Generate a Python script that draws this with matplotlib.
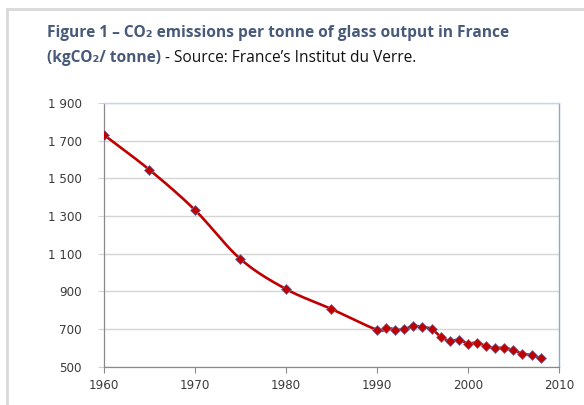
import numpy as np
import matplotlib
matplotlib.use("Agg")
import matplotlib.pyplot as plt
from matplotlib.lines import Line2D
from matplotlib.ticker import FuncFormatter

years = [1960, 1965, 1970, 1975, 1980, 1985, 1990, 1991, 1992, 1993, 1994,
         1995, 1996, 1997, 1998, 1999, 2000, 2001, 2002, 2003, 2004, 2005,
         2006, 2007, 2008]
emissions = [1730, 1545, 1332, 1072, 913, 807, 697, 709, 698, 700, 717,
             712, 702, 661, 638, 644, 624, 629, 610, 600, 602, 588,
             570, 563, 546]

title_line1 = "Figure 1 \u2013 CO\u2082 emissions per tonne of glass output in France"
title_line2a = "(kgCO\u2082/ tonne)"
title_line2b = " - Source: France\u2019s Institut du Verre."

fams = ["Open Sans", "DejaVu Sans"]


def smooth(x, y, n=20):
    # Catmull-Rom path through the points, like a spreadsheet's smoothed line
    x = np.asarray(x, float)
    y = np.asarray(y, float)
    px = np.concatenate([[2 * x[0] - x[1]], x, [2 * x[-1] - x[-2]]])
    py = np.concatenate([[2 * y[0] - y[1]], y, [2 * y[-1] - y[-2]]])
    xs, ys = [], []
    t = np.linspace(0, 1, n, endpoint=False)
    for i in range(1, len(px) - 2):
        for p, out in ((px, xs), (py, ys)):
            p0, p1, p2, p3 = p[i - 1], p[i], p[i + 1], p[i + 2]
            out.extend(0.5 * ((2 * p1) + (-p0 + p2) * t
                              + (2 * p0 - 5 * p1 + 4 * p2 - p3) * t ** 2
                              + (-p0 + 3 * p1 - 3 * p2 + p3) * t ** 3))
    xs.append(x[-1])
    ys.append(y[-1])
    return np.array(xs), np.array(ys)


fig = plt.figure(figsize=(5.84, 4.05), dpi=100)
ax = fig.add_axes([0.178, 0.094, 0.779, 0.652])

sx, sy = smooth(years, emissions)
ax.plot(sx, sy, color="#c00000", linewidth=1.9, zorder=3)
ax.plot(years, emissions, linestyle="none", marker="D", markersize=5.6,
        markerfacecolor="#c00000", markeredgecolor="#6f6f9f",
        markeredgewidth=0.5, zorder=4)

ax.set_xlim(1960, 2010)
ax.set_ylim(500, 1900)
ax.set_xticks(range(1960, 2011, 10))
ax.set_yticks(range(500, 1901, 200))
ax.yaxis.set_major_formatter(FuncFormatter(lambda v, p: f"{int(v):,}".replace(",", " ")))
ax.grid(axis="y", color="#d4d4d4", linewidth=1.0)
ax.set_axisbelow(True)

for s in ("left", "bottom"):
    ax.spines[s].set_color("#8a8a8a")
    ax.spines[s].set_linewidth(0.9)
ax.spines["top"].set_color("#c6d3ea")
ax.spines["right"].set_color("#8ea6d4")
ax.spines["top"].set_linewidth(1.0)
ax.spines["right"].set_linewidth(1.0)
ax.tick_params(axis="both", direction="out", length=4, color="#8a8a8a",
               labelsize=8.6, labelcolor="#3a3a3a")
ax.tick_params(axis="y", length=4, color="#d4d4d4", pad=12)
ax.tick_params(axis="x", pad=5)
for lab in ax.get_xticklabels() + ax.get_yticklabels():
    lab.set_fontfamily("DejaVu Sans")

# page frame
fig.add_artist(Line2D([0.012, 0.012], [0.0, 0.978], color="#d9d9d9", linewidth=2))
fig.add_artist(Line2D([0.012, 1.0], [0.978, 0.978], color="#d9d9d9", linewidth=2))

tcol = "#485a7a"
fig.text(0.081, 0.918, title_line1, fontsize=11.2, fontweight="bold",
         color=tcol, family=fams, va="center")
t2 = fig.text(0.081, 0.858, title_line2a, fontsize=11.2, fontweight="bold",
              color=tcol, family=fams, va="center")
fig.canvas.draw()
bb = t2.get_window_extent()
x2 = fig.transFigure.inverted().transform((bb.x1, bb.y0))[0]
fig.text(x2, 0.858, title_line2b, fontsize=11.2, color="#111111",
         family=fams, va="center")

fig.savefig("out.png", dpi=100)
